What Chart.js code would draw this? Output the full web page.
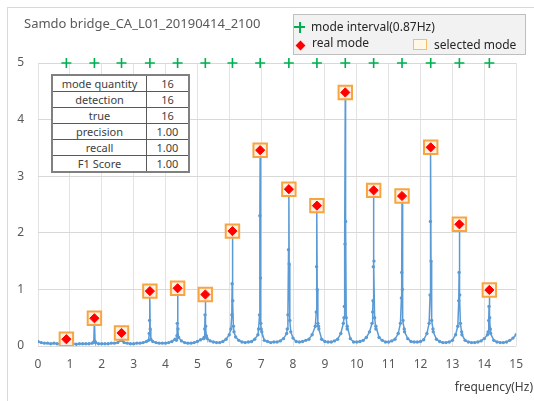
<!DOCTYPE html>
<html>
<head>
<meta charset="utf-8">
<script src="https://cdn.jsdelivr.net/npm/chart.js@4.4.1/dist/chart.umd.min.js"></script>
<style>
  body { margin: 0; background: #fff; }
  #wrap { position: relative; width: 534px; height: 401px; overflow: hidden; font-family: "Noto Sans", sans-serif; }
  #frame { position: absolute; left: 7px; top: 7px; width: 600px; height: 500px; border-left: 1px solid #d9d9d9; border-top: 1px solid #d9d9d9; }
  #c { position: absolute; left: 0; top: 0; }
  #title { position: absolute; left: 24px; top: 14px; font-size: 13px; line-height: 18px; color: #595959; white-space: nowrap; }
  #legend { position: absolute; left: 293px; top: 14px; width: 231px; height: 39px; background: #f2f2f2; border: 1px solid #bfbfbf; font-size: 12px; color: #262626; }
  #legend .txt { position: absolute; white-space: nowrap; line-height: 16px; }
  .plus-h { position: absolute; width: 11px; height: 2px; background: #00b050; }
  .plus-v { position: absolute; width: 2px; height: 11px; background: #00b050; }
  .dia { position: absolute; width: 7px; height: 7px; background: #ff0000; transform: rotate(45deg); }
  .sq { position: absolute; width: 12px; height: 9px; border: 1px solid #f5c060; background: #fff8e6; }
  #stats { position: absolute; left: 51px; top: 74px; border-collapse: collapse; background: #fff; font-size: 11px; color: #404040; border: 2px solid #808080; }
  #stats td { border: 1px solid #595959; height: 15px; padding: 0; text-align: center; line-height: 14px; }
  #xtitle { position: absolute; right: 1px; top: 379px; font-size: 12px; line-height: 16px; color: #404040; white-space: nowrap; }
</style>
</head>
<body>
<div id="wrap">
  <div id="frame"></div>
  <canvas id="c" width="534" height="401"></canvas>
  <div id="title">Samdo bridge_CA_L01_20190414_2100</div>
  <div id="legend">
    <span class="plus-h" style="left:0px;top:11px"></span>
    <span class="plus-v" style="left:4.5px;top:6.5px"></span>
    <span class="txt" style="left:17px;top:4px">mode interval(0.87Hz)</span>
    <span class="dia" style="left:3px;top:27px"></span>
    <span class="txt" style="left:18px;top:20px">real mode</span>
    <span class="sq" style="left:119px;top:24px"></span>
    <span class="txt" style="left:140px;top:22px">selected mode</span>
  </div>
  <table id="stats">
    <tr><td style="width:93px">mode quantity</td><td style="width:41px">16</td></tr>
    <tr><td>detection</td><td>16</td></tr>
    <tr><td>true</td><td>16</td></tr>
    <tr><td>precision</td><td>1.00</td></tr>
    <tr><td>recall</td><td>1.00</td></tr>
    <tr><td>F1 Score</td><td>1.00</td></tr>
  </table>
  <div id="xtitle">frequency(Hz)</div>
</div>
<script>
// detected modes (Hz) and their peak amplitudes
const modeFreq = [0.89, 1.77, 2.62, 3.51, 4.38, 5.25, 6.10, 6.97, 7.87, 8.75, 9.64, 10.53, 11.42, 12.32, 13.22, 14.16];
const modeAmp = [0.12, 0.49, 0.23, 0.97, 1.02, 0.91, 2.03, 3.46, 2.77, 2.48, 4.48, 2.75, 2.65, 3.51, 2.15, 0.99];
const intervalLevel = 5;

// spectrum background, one value every 0.1 Hz from 0 to 15 (null = covered by a peak below)
const baseAmp = [
  0.08, 0.06, 0.05, 0.05, 0.04, 0.05, 0.04, 0.04, 0.05, null,
  0.04, 0.04, 0.03, 0.04, 0.04, 0.04, 0.04, 0.05, 0.06, 0.04,
  0.04, 0.04, 0.04, 0.05, 0.05, 0.06, null, 0.06, 0.05, 0.04,
  0.04, 0.05, 0.05, 0.06, 0.08, null, 0.08, 0.06, 0.05, 0.05,
  0.05, 0.06, 0.08, 0.12, null, 0.09, 0.06, 0.05, 0.05, 0.06,
  0.08, 0.11, 0.13, 0.14, 0.09, 0.07, 0.06, 0.06, 0.08, 0.12,
  0.20, null, 0.16, 0.10, 0.07, 0.06, 0.07, 0.08, 0.12, 0.20,
  0.30, 0.10, 0.08, 0.06, 0.07, 0.07, 0.09, 0.13, 0.22, null,
  0.14, 0.08, 0.07, 0.08, 0.10, 0.12, 0.20, null, 0.35, 0.12,
  0.08, 0.07, 0.07, 0.09, 0.12, 0.22, 0.50, 0.30, 0.13, 0.07,
  0.07, 0.08, 0.10, 0.15, 0.25, 0.60, 0.30, 0.15, 0.10, 0.07,
  0.07, 0.09, 0.12, 0.22, null, 0.25, 0.13, 0.08, 0.07, 0.07,
  0.08, 0.11, 0.22, null, 0.25, 0.12, 0.08, 0.06, 0.06, 0.07,
  0.10, 0.20, null, 0.20, 0.10, 0.07, 0.06, 0.06, 0.07, 0.09,
  0.13, 0.20, 0.22, 0.10, 0.07, 0.06, 0.06, 0.07, 0.10, 0.14,
  0.20
];

// finer samples around each peak
const peakFreq = [
  0.87, 0.89, 0.91,
  1.75, 1.77, 1.79,
  2.60, 2.62, 2.64,
  3.47, 3.49, 3.50, 3.51, 3.52, 3.54,
  4.34, 4.36, 4.37, 4.38, 4.39, 4.41,
  5.21, 5.23, 5.24, 5.25, 5.26, 5.28,
  6.05, 6.08, 6.09, 6.10, 6.11, 6.13, 6.15,
  6.92, 6.95, 6.96, 6.97, 6.98, 6.99, 7.02,
  7.82, 7.84, 7.86, 7.87, 7.88, 7.90, 7.93,
  8.70, 8.73, 8.74, 8.75, 8.76, 8.78, 8.81,
  9.58, 9.61, 9.63, 9.64, 9.65, 9.67, 9.70,
  10.48, 10.51, 10.52, 10.53, 10.54, 10.56, 10.60,
  11.37, 11.40, 11.41, 11.42, 11.43, 11.45, 11.49,
  12.27, 12.30, 12.31, 12.32, 12.33, 12.35, 12.39,
  13.17, 13.20, 13.21, 13.22, 13.23, 13.25, 13.29,
  14.12, 14.14, 14.15, 14.16, 14.17, 14.19
];
const peakAmp = [
  0.06, 0.12, 0.06,
  0.07, 0.49, 0.08,
  0.10, 0.23, 0.10,
  0.10, 0.22, 0.45, 0.97, 0.30, 0.12,
  0.10, 0.18, 0.40, 1.02, 0.30, 0.15,
  0.15, 0.30, 0.55, 0.91, 0.35, 0.18,
  0.30, 0.55, 1.10, 2.03, 0.80, 0.35, 0.25,
  0.30, 0.55, 2.30, 3.46, 1.20, 0.40, 0.25,
  0.30, 0.55, 1.70, 2.77, 1.45, 0.45, 0.25,
  0.35, 0.60, 1.40, 2.48, 1.00, 0.40, 0.30,
  0.40, 0.70, 1.80, 4.48, 2.20, 0.50, 0.35,
  0.40, 0.80, 1.40, 2.75, 1.50, 0.50, 0.35,
  0.40, 0.85, 1.30, 2.65, 1.00, 0.45, 0.30,
  0.40, 0.90, 2.20, 3.51, 1.50, 0.45, 0.30,
  0.35, 0.80, 1.30, 2.15, 0.90, 0.40, 0.25,
  0.25, 0.45, 0.70, 0.99, 0.50, 0.30
];

const spectrum = [];
baseAmp.forEach((a, i) => { if (a !== null) spectrum.push({ x: i / 10, y: a }); });
peakFreq.forEach((f, i) => spectrum.push({ x: f, y: peakAmp[i] }));
spectrum.sort((a, b) => a.x - b.x);

const modePoints = modeFreq.map((f, i) => ({ x: f, y: modeAmp[i] }));
const tickFont = { size: 12, family: "Noto Sans" };

new Chart(document.getElementById("c"), {
  type: "scatter",
  data: {
    datasets: [
      {
        label: "mode interval(0.87Hz)",
        data: modeFreq.map(f => ({ x: f, y: intervalLevel })),
        pointStyle: "cross",
        pointRadius: 5,
        borderColor: "#00b050",
        borderWidth: 1.6,
        clip: false,
        order: 1
      },
      {
        label: "real mode",
        data: modePoints,
        pointStyle: "rectRot",
        pointRadius: 4.6,
        backgroundColor: "#ff0000",
        borderColor: "#ff0000",
        borderWidth: 1,
        order: 2
      },
      {
        label: "selected mode",
        data: modePoints,
        pointStyle: "rect",
        pointRadius: 9.5,
        backgroundColor: "rgba(255,240,222,0.95)",
        borderColor: "#f7a540",
        borderWidth: 2,
        order: 3
      },
      {
        label: "spectrum",
        data: spectrum,
        showLine: true,
        borderColor: "#5b9bd5",
        borderWidth: 1.5,
        pointRadius: 1.7,
        pointBackgroundColor: "#5b9bd5",
        pointBorderWidth: 0,
        order: 4
      }
    ]
  },
  options: {
    responsive: false,
    animation: false,
    devicePixelRatio: 1,
    layout: { padding: { left: 8, right: 14, top: 63, bottom: 0 } },
    plugins: { legend: { display: false }, tooltip: { enabled: false } },
    scales: {
      x: {
        type: "linear",
        min: 0,
        max: 15,
        ticks: { stepSize: 1, color: "#595959", font: tickFont, padding: 11 },
        grid: { color: "#e3e3e3", drawTicks: false },
        border: { display: false },
        afterFit: s => { s.height = 55; }
      },
      y: {
        min: 0,
        max: 5,
        ticks: { stepSize: 1, color: "#595959", font: tickFont, padding: 14 },
        grid: { color: "#d9d9d9", drawTicks: false },
        border: { display: false },
        afterFit: s => { s.width = 30; }
      }
    }
  }
});
</script>
</body>
</html>
